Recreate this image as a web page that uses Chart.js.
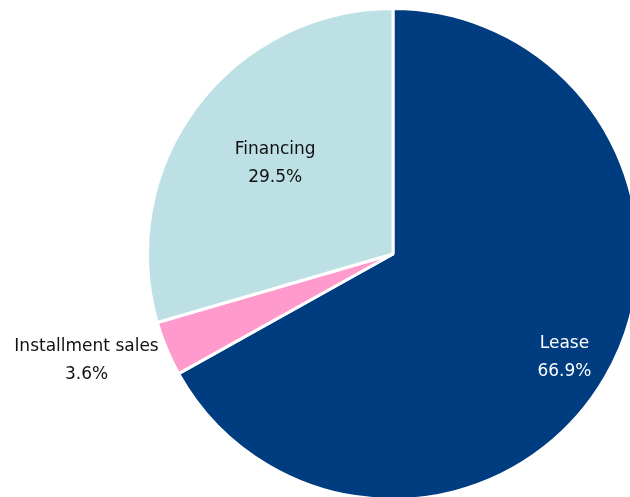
<!DOCTYPE html>
<html>
<head>
<meta charset="utf-8">
<script src="https://cdn.jsdelivr.net/npm/chart.js@4"></script>
<style>
  html, body { margin: 0; padding: 0; background: #fff; overflow: hidden; width: 630px; height: 497px; }
  #wrap { position: absolute; left: -7px; top: -146px; width: 800px; height: 800px; }
</style>
</head>
<body>
<div id="wrap"><canvas id="pie"></canvas></div>
<script>
// Data
const categories = ['Lease', 'Installment sales', 'Financing'];
const shares = [66.9, 3.6, 29.5];
const sliceColors = ['#003c80', '#ff9acc', '#bce0e4'];
const labelColors = ['#ffffff', '#111111', '#111111'];
const labelRadius = [0.81, 1.353, 0.6];
const labelShiftY = [3, -21, -2];

// draws the name and percent of every slice
const sliceLabels = {
    id: 'sliceLabels',
    afterDatasetsDraw(chart) {
        const ctx = chart.ctx;
        const arcs = chart.getDatasetMeta(0).data;
        ctx.save();
        ctx.font = '17px "DejaVu Sans", sans-serif';
        ctx.textAlign = 'center';
        ctx.textBaseline = 'middle';
        arcs.forEach(function (arc, i) {
            const mid = (arc.startAngle + arc.endAngle) / 2;
            const r = arc.outerRadius * labelRadius[i];
            const x = arc.x + Math.cos(mid) * r;
            const y = arc.y + Math.sin(mid) * r + labelShiftY[i];
            ctx.fillStyle = labelColors[i];
            ctx.fillText(categories[i], x, y - 14);
            ctx.fillText(shares[i].toFixed(1) + '%', x, y + 14);
        });
        ctx.restore();
    }
};

new Chart(document.getElementById('pie').getContext('2d'), {
    type: 'pie',
    data: {
        labels: categories,
        datasets: [{
            data: shares,
            backgroundColor: sliceColors,
            borderColor: '#ffffff',
            borderWidth: 3
        }]
    },
    options: {
        responsive: true,
        maintainAspectRatio: false,
        animation: false,
        layout: { padding: 153 },
        plugins: { legend: { display: false }, tooltip: { enabled: false } }
    },
    plugins: [sliceLabels]
});
</script>
</body>
</html>
